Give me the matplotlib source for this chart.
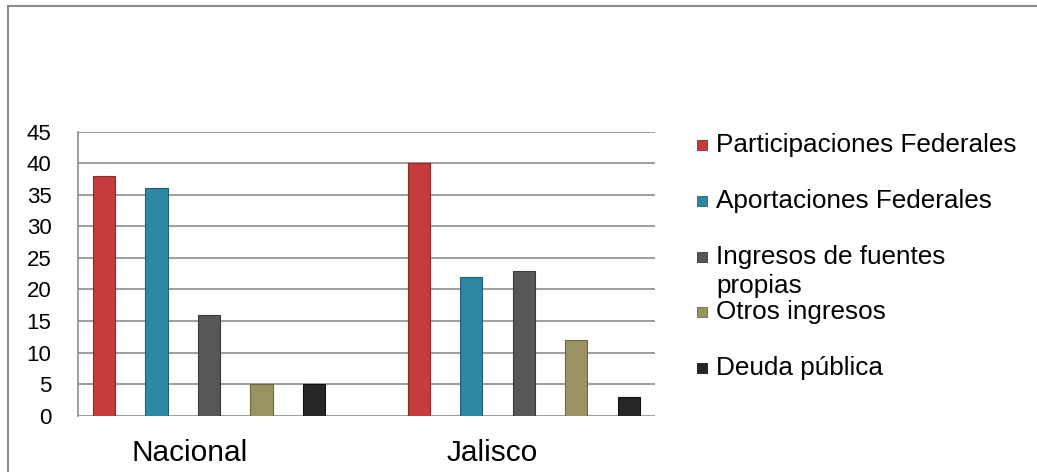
import matplotlib.pyplot as plt
import numpy as np
from matplotlib.patches import Rectangle
from matplotlib.lines import Line2D

plt.rcParams['font.family'] = ['Liberation Sans', 'DejaVu Sans']

# datos
regiones = ['Nacional', 'Jalisco']
series = ['Participaciones Federales', 'Aportaciones Federales',
          'Ingresos de fuentes\npropias', 'Otros ingresos', 'Deuda pública']
participaciones = [38, 40]
aportaciones = [36, 22]
propios = [16, 23]
otros = [5, 12]
deuda = [5, 3]
valores = [participaciones, aportaciones, propios, otros, deuda]
colores = ['#C43C3C', '#2D88A3', '#575757', '#9B9262', '#262626']
bordes = ['#8E2A2A', '#1F6073', '#3A3A3A', '#6E6842', '#111111']

fig = plt.figure(figsize=(10.37, 4.72), dpi=100)
ax = fig.add_axes([0.0752, 0.1193, 0.5564, 0.6017])

x = np.arange(len(regiones))
paso = 1 / 6
ancho = 0.07
for i, (vals, c, b) in enumerate(zip(valores, colores, bordes)):
    ax.bar(x + (i - 2) * paso, vals, width=ancho, color=c, edgecolor=b,
           linewidth=0.8, zorder=3)

ax.set_xlim(-0.416, 1.416)
ax.set_ylim(0, 45)
ax.set_yticks(range(0, 46, 5))
ax.yaxis.grid(True, color='#8C8C8C', linewidth=1.2, zorder=0)
# las etiquetas en el original quedan algo a la izquierda de cada grupo
ax.set_xticks([-0.06, 0.90])
ax.set_xticklabels(regiones, fontsize=21.5)
ax.tick_params(axis='x', length=0, pad=17)
ax.tick_params(axis='y', length=0, pad=19, labelsize=16)
for s in ['top', 'right', 'bottom']:
    ax.spines[s].set_visible(False)
ax.spines['left'].set_color('#8C8C8C')
ax.spines['left'].set_linewidth(1.2)

# leyenda manual
W, H = 1037, 472
filas = [145, 201, 257, 312, 368]
for nombre, c, b, fy in zip(series, colores, bordes, filas):
    fig.patches.append(Rectangle((697 / W, (H - fy - 5) / H), 10 / W, 10 / H,
                                 transform=fig.transFigure, facecolor=c,
                                 edgecolor=b, linewidth=0.6))
    for k, linea in enumerate(nombre.split('\n')):
        fig.text(716 / W, (H - fy - k * 29) / H, linea, fontsize=18.8,
                 va='center', ha='left')

# marco exterior
fig.add_artist(Line2D([8 / W, 1], [(H - 5.5) / H] * 2, transform=fig.transFigure,
                      color='#8C8C8C', linewidth=1.5))
fig.add_artist(Line2D([8 / W] * 2, [0, (H - 5.5) / H], transform=fig.transFigure,
                      color='#8C8C8C', linewidth=1.5))

fig.savefig('out.png', dpi=100)
